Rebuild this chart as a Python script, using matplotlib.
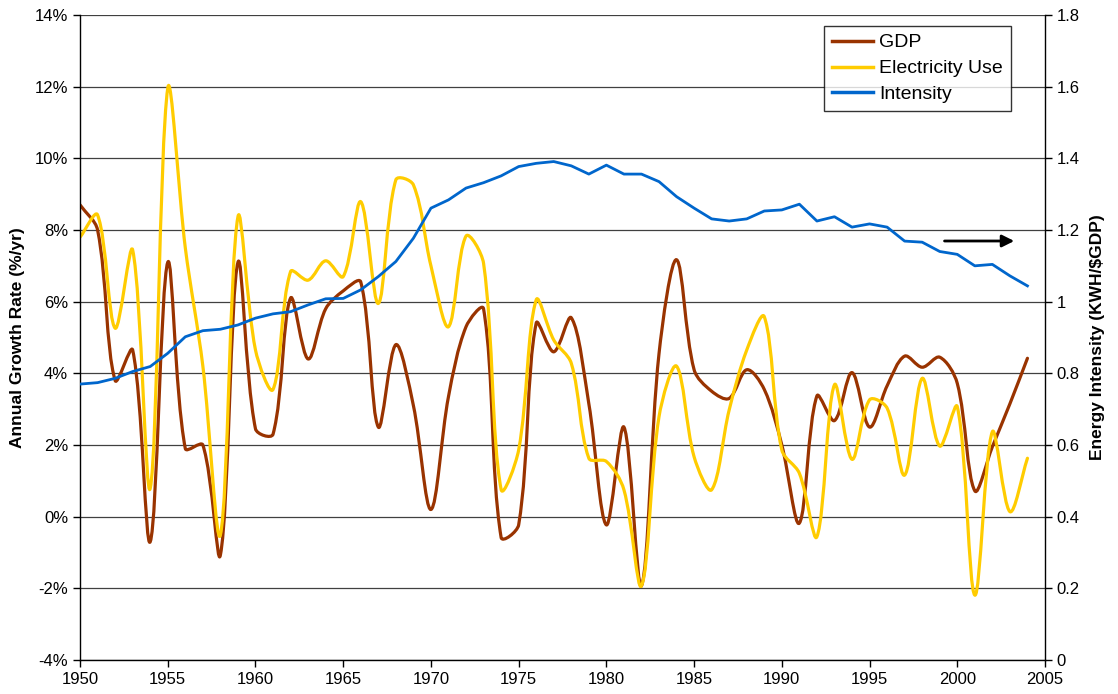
import matplotlib
matplotlib.use('Agg')
import matplotlib.pyplot as plt
from matplotlib.path import Path
from matplotlib.patches import PathPatch
from matplotlib.lines import Line2D
from matplotlib.ticker import FuncFormatter
import numpy as np

plt.rcParams['font.family'] = ['Liberation Sans', 'DejaVu Sans']

years = list(range(1950, 2005))

# annual growth rates, %/yr
gdp = [8.7, 8.0, 3.8, 4.65, -0.7, 7.1, 1.9, 2.0, -1.07, 7.1,
       2.45, 2.3, 6.1, 4.4, 5.8, 6.3, 6.55, 2.5, 4.8, 3.1,
       0.2, 3.35, 5.3, 5.8, -0.58, -0.23, 5.4, 4.6, 5.55, 3.15,
       -0.23, 2.5, -1.93, 4.55, 7.17, 4.1, 3.5, 3.3, 4.1, 3.55,
       2.0, -0.18, 3.37, 2.68, 4.02, 2.5, 3.65, 4.48, 4.17, 4.45,
       3.72, 0.72, 1.95, 3.15, 4.42]
electricity = [7.8, 8.42, 5.26, 7.44, 0.79, 11.96, 7.5, 4.2, -0.51, 8.37,
               4.65, 3.55, 6.84, 6.6, 7.14, 6.7, 8.79, 5.95, 9.4, 9.26,
               7.0, 5.3, 7.83, 7.07, 0.76, 1.86, 6.05, 4.93, 4.28, 1.63,
               1.54, 0.75, -1.93, 2.79, 4.2, 1.67, 0.75, 2.98, 4.65, 5.58,
               1.86, 1.21, -0.56, 3.68, 1.6, 3.26, 3.03, 1.16, 3.86, 1.97,
               3.07, -2.19, 2.37, 0.14, 1.63]
# KWH per $GDP
intensity = [0.77, 0.774, 0.786, 0.805, 0.819, 0.856, 0.902, 0.919, 0.923, 0.935,
             0.954, 0.966, 0.972, 0.991, 1.008, 1.009, 1.033, 1.07, 1.112, 1.177,
             1.261, 1.284, 1.317, 1.332, 1.351, 1.377, 1.386, 1.391, 1.379, 1.356,
             1.381, 1.356, 1.356, 1.335, 1.293, 1.261, 1.231, 1.225, 1.231, 1.253,
             1.256, 1.272, 1.225, 1.237, 1.208, 1.217, 1.208, 1.169, 1.166, 1.14,
             1.132, 1.1, 1.104, 1.072, 1.044]

gdp_color = '#993300'
elec_color = '#FFCC00'
int_color = '#0066CC'


# Excel style smoothed line: bezier through every point, control arms
# scaled by segment lengths measured on screen (sx, sy = pixels per unit)
def smooth_path(x, y, sx, sy):
    pts = np.column_stack([x, y]).astype(float)
    scr = pts * [sx, sy]
    n = len(pts)

    def dist(i, j):
        return np.hypot(*(scr[j] - scr[i]))

    verts = [pts[0]]
    codes = [Path.MOVETO]
    for i in range(n - 1):
        i0 = max(i - 1, 0)
        i3 = min(i + 2, n - 1)
        d01 = dist(i0, i)
        d12 = dist(i, i + 1)
        d23 = dist(i + 1, i3)
        f1 = d12 / (d01 + d12) if d01 + d12 > 0 else 0
        f2 = d12 / (d12 + d23) if d12 + d23 > 0 else 0
        c1 = pts[i] + (pts[i + 1] - pts[i0]) * f1 / 3.0
        c2 = pts[i + 1] - (pts[i3] - pts[i]) * f2 / 3.0
        verts += [c1, c2, pts[i + 1]]
        codes += [Path.CURVE4] * 3
    return Path(verts, codes)


fig = plt.figure(figsize=(11.18, 6.94), dpi=100)
ax = fig.add_axes([0.0716, 0.049, 0.8631, 0.9294])
ax2 = ax.twinx()

px_year = 965 / 55.0
px_pct = 645 / 18.0
ax.add_patch(PathPatch(smooth_path(years, gdp, px_year, px_pct), facecolor='none',
                       edgecolor=gdp_color, lw=2.3, capstyle='round', joinstyle='round'))
ax.add_patch(PathPatch(smooth_path(years, electricity, px_year, px_pct), facecolor='none',
                       edgecolor=elec_color, lw=2.3, capstyle='round', joinstyle='round'))
ax2.plot(years, intensity, color=int_color, lw=2.0, solid_joinstyle='round')

ax.set_xlim(1950, 2005)
ax.set_ylim(-4, 14)
ax2.set_ylim(0, 1.8)
ax.set_xticks(range(1950, 2006, 5))
ax.set_yticks(range(-4, 15, 2))
ax2.set_yticks(np.arange(0, 1.81, 0.2))
ax.yaxis.set_major_formatter(FuncFormatter(lambda v, p: '%d%%' % v))
ax2.yaxis.set_major_formatter(FuncFormatter(lambda v, p: '%g' % round(v, 1)))

ax.grid(axis='y', color='#404040', lw=0.9)
ax.set_axisbelow(True)
for a in (ax, ax2):
    a.spines['top'].set_visible(False)
    a.tick_params(labelsize=12, length=5, width=1, color='black', direction='out')
    for s in a.spines.values():
        s.set_linewidth(1.0)
ax2.spines['left'].set_visible(False)
ax2.spines['bottom'].set_visible(False)
ax.spines['right'].set_visible(False)

ax.set_ylabel('Annual Growth Rate (%/yr)', fontsize=12.5, fontweight='bold', labelpad=7)
ax2.set_ylabel('Energy Intensity (KWH/$GDP)', fontsize=12.5, fontweight='bold', labelpad=7)

handles = [Line2D([], [], color=gdp_color, lw=2.5),
           Line2D([], [], color=elec_color, lw=2.5),
           Line2D([], [], color=int_color, lw=2.5)]
leg = ax2.legend(handles, ['GDP', 'Electricity Use', 'Intensity'],
                 loc='upper left', bbox_to_anchor=(0.771, 0.983), borderaxespad=0,
                 fontsize=14, frameon=True, fancybox=False, edgecolor='black',
                 handlelength=2.1, borderpad=0.4, labelspacing=0.43, handletextpad=0.35)
leg.get_frame().set_linewidth(1.0)

ax2.annotate('', xy=(0.971, 0.6496), xytext=(0.893, 0.6496), xycoords='axes fraction',
             arrowprops=dict(arrowstyle='-|>', color='black', lw=2, mutation_scale=18))

fig.savefig('out.png', dpi=100)
